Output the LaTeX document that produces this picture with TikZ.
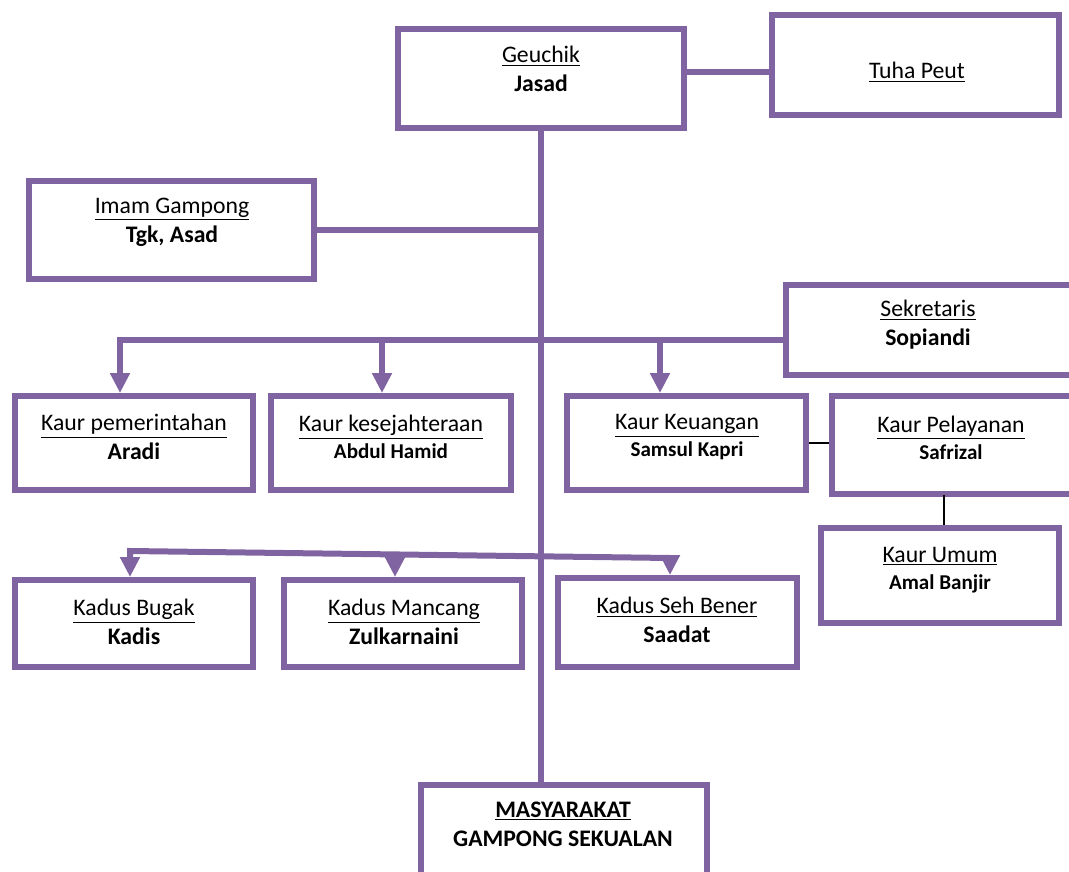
\documentclass[tikz,border=0pt]{standalone}
\usepackage{fontspec}
\setmainfont{Carlito}
\usetikzlibrary{arrows.meta}
\definecolor{ungu}{HTML}{8064A2}
\newcommand{\kecilfont}{\fontsize{12}{14}\selectfont\bfseries}

\begin{document}
\begin{tikzpicture}
[x=0.02cm,y=-0.02cm,
 kotak/.style 2 args={draw=ungu,fill=white,line width=0.12cm,minimum width=#1*0.02cm,minimum height=#2*0.02cm,inner sep=0pt},
 teks/.style={align=center,inner sep=0pt,font=\fontsize{13.5}{16.5}\selectfont},
 garis/.style={draw=ungu,line width=0.12cm},
 panah/.style={garis,arrows={-Triangle[width=0.38cm,length=0.4cm]}},
 tipis/.style={draw=black,line width=1.2pt}]
\useasboundingbox (0,0) rectangle (1069,872);
\clip (0,0) rectangle (1069,872);

% kotak
\node[kotak={286}{99}] (geuchik) at (541,78.5) {};
\node[kotak={287}{100}] (tuhapeut) at (915.5,65) {};
\node[kotak={285}{98}] (imam) at (171.5,230) {};
\node[kotak={304}{90}] (sekretaris) at (938,330) {};
\node[kotak={238}{94}] (pemerintahan) at (134,443) {};
\node[kotak={240}{94}] (kesejahteraan) at (391,443) {};
\node[kotak={239}{94}] (keuangan) at (686.5,443) {};
\node[kotak={258}{98}] (pelayanan) at (961,445) {};
\node[kotak={238}{95}] (umum) at (940,575.5) {};
\node[kotak={238}{87}] (bugak) at (134,623.5) {};
\node[kotak={238}{87}] (mancang) at (403,623.5) {};
\node[kotak={239}{89}] (sehbener) at (677.5,622.5) {};
\node[kotak={286}{115}] (masyarakat) at (564,842.5) {};

% teks
\node[teks] (geuchik-t) at (541,69) {\underline{Geuchik}\\\textbf{Jasad}};
\node[teks] (tuhapeut-t) at (917,72) {\underline{Tuha Peut}};
\node[teks] (imam-t) at (172,222) {\underline{Imam Gampong}\\\textbf{Tgk, Asad}};
\node[teks] (sekretaris-t) at (928,325) {\underline{Sekretaris}\\\textbf{Sopiandi}};
\node[teks] (pemerintahan-t) at (134,437) {\underline{Kaur pemerintahan}\\\textbf{Aradi}};
\node[teks] (kesejahteraan-t) at (391,437) {\underline{Kaur kesejahteraan}\\[-1pt]{\kecilfont Abdul Hamid}};
\node[teks] (keuangan-t) at (687,437) {\underline{Kaur Keuangan}\\[-1pt]{\kecilfont Samsul Kapri}};
\node[teks] (pelayanan-t) at (951,438) {\underline{Kaur Pelayanan}\\[-1pt]{\kecilfont Safrizal}};
\node[teks] (umum-t) at (940,570) {\underline{Kaur Umum}\\[-1pt]{\kecilfont Amal Banjir}};
\node[teks] (bugak-t) at (134,622) {\underline{Kadus Bugak}\\\textbf{Kadis}};
\node[teks] (mancang-t) at (404,622) {\underline{Kadus Mancang}\\\textbf{Zulkarnaini}};
\node[teks] (sehbener-t) at (677,620) {\underline{Kadus Seh Bener}\\\textbf{Saadat}};
\node[teks] (masyarakat-t) at (563,824) {\textbf{\underline{MASYARAKAT}}\\\textbf{GAMPONG SEKUALAN}};

% garis
\coordinate (tp) at (687,72);
\coordinate (s1) at (120,340);
\coordinate (s2) at (382,340);
\coordinate (s3) at (660,340);
\coordinate (d1) at (130,551);
\coordinate (d2) at (395,554.5);
\coordinate (d3) at (670,558);
\coordinate (p1) at (944,495);

\draw[garis] (geuchik.south) -- (geuchik.south |- masyarakat.north);
\draw[garis] (tp) -- (tp -| tuhapeut.west);
\draw[garis] (imam.east) -- (imam.east -| geuchik.south);
\draw[panah] (s1 -| sekretaris.west) -- (s1) -- (s1 |- pemerintahan.north);
\draw[panah] (s2) -- (s2 |- kesejahteraan.north);
\draw[panah] (s3) -- (s3 |- keuangan.north);
\draw[panah] (d3) -- (d1) -- (d1 |- bugak.north);
\draw[panah] (d2) -- (d2 |- mancang.north);
\draw[panah] (d3) -- (d3 |- sehbener.north);
\draw[tipis] (keuangan.east) -- (keuangan.east -| pelayanan.west);
\draw[tipis] (p1) -- (p1 |- umum.north);

\end{tikzpicture}
\end{document}
